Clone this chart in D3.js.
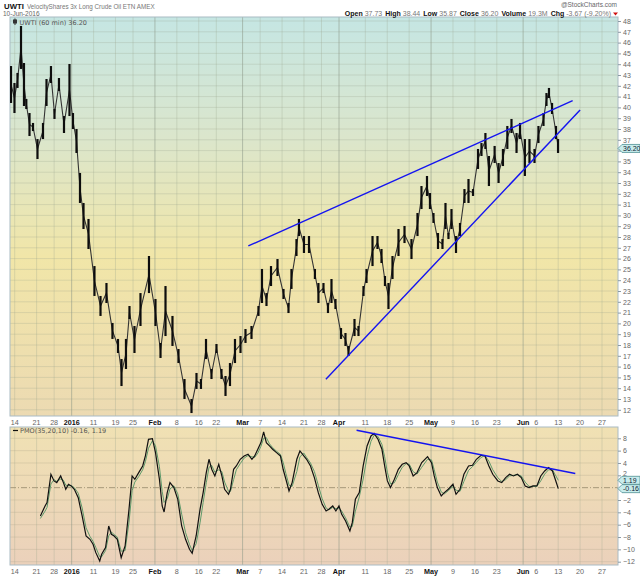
<!DOCTYPE html>
<html><head><meta charset="utf-8">
<script src="https://cdn.jsdelivr.net/npm/d3@7"></script>
<style>body{margin:0;background:#fff}svg{display:block}</style>
</head><body><svg id="c" width="640" height="576"></svg>
<script>
// ---- data (session index = trading days since 2015-12-14) ----
const priceSession = [-0.84,-0.05,0.64,1.44,2.12,2.65,3.38,4.18,5.2,6.46,7.26,8.28,9.08,10.1,11.25,12.5,13.3,14.1,14.9,15.7,16.84,18.2,19.58,20.94,22.31,23.57,24.37,25.39,26.19,27.33,28.7,30.64,32.12,33.27,34.41,36.0,37.37,38.74,40.34,41.48,42.5,43.65,44.9,46.04,47.18,48.1,49.12,50.26,51.52,52.66,54.03,55.62,56.42,57.45,58.48,59.96,61.33,62.47,63.15,64.29,64.86,66.0,67.15,68.5,69.3,70.45,71.48,72.28,73.19,74.45,75.47,76.16,77.53,78.44,79.58,80.27,81.64,82.77,83.69,84.48,85.28,86.2,87.57,88.94,90.53,91.9,92.81,94.07,94.75,95.55,96.58,97.6,98.29,98.97,99.66,100.69,101.6,102.62,103.54,104.57,105.71,106.5,107.4,108.2,109.5,110.4,111.4,112.4,113.35,114.5,115.3,116.4,117.45,118.6,119.5,120.65,121.33,121.9,122.6,123.5,123.97];
const priceHigh = [43.83,42.26,43.19,47.54,44.11,40.78,39.48,38.56,37.07,38.56,42.63,43.83,39.85,42.72,39.2,44.02,39.48,38.0,33.93,31.15,29.67,25.31,22.54,23.74,20.04,18.56,16.7,18.56,21.61,19.76,22.81,26.24,22.26,18.19,23.46,20.69,17.63,14.85,13.0,15.41,14.85,18.56,15.78,18.09,15.78,15.13,16.33,18.56,18.83,19.48,19.76,21.61,25.04,22.81,25.31,25.96,23.19,21.89,25.04,27.81,29.67,28.09,28.09,25.04,23.74,23.74,21.89,24.11,22.26,19.57,19.11,17.91,20.41,19.76,23.46,25.04,28.09,28.09,26.89,24.39,23.74,26.24,28.74,29.02,27.81,30.22,32.72,33.65,32.07,30.22,28.37,27.81,31.15,28.37,30.59,28.09,29.3,32.44,33.37,32.44,36.15,36.7,37.63,35.5,36.43,34.85,36.15,38.28,38.93,37.63,38.56,37.07,37.07,36.15,38.28,39.48,41.33,41.8,40.41,38.28,37.07];
const priceLow = [40.41,39.48,41.8,43.56,40.13,39.85,37.35,37.81,35.22,37.07,40.13,42.26,38.93,41.52,37.63,39.2,38.0,35.78,31.15,28.74,26.89,22.54,20.69,21.89,18.56,17.26,14.2,15.78,20.41,17.26,19.76,22.81,19.76,16.8,18.83,17.91,16.33,13.0,11.7,13.93,13.93,16.7,14.85,17.26,14.85,13.28,14.2,16.33,17.26,18.19,18.56,20.69,21.89,21.61,23.46,24.39,22.26,20.96,23.19,26.24,28.09,26.52,26.52,24.11,21.89,22.81,20.96,21.89,21.33,18.56,17.91,16.98,18.83,18.83,22.54,23.74,25.31,26.89,25.59,23.46,21.33,24.11,26.24,27.44,25.96,28.09,30.59,31.8,30.59,29.3,26.89,26.89,28.74,27.81,28.74,26.52,28.09,31.15,31.15,31.8,34.3,35.5,36.15,32.72,34.85,33.0,34.57,36.15,37.63,35.78,37.07,33.65,34.85,34.85,36.7,38.28,40.13,40.87,39.39,37.07,35.78];

const pmoSession = [5.86,6.93,7.38,8.27,8.98,9.6,10.49,11.12,11.65,12.27,12.9,13.61,14.5,15.39,16.28,17.17,17.88,18.51,19.4,19.84,20.73,21.45,22.07,22.69,23.41,24.3,25.19,26.08,26.79,27.41,28.3,29.2,29.82,30.53,31.42,32.13,33.02,33.65,34.09,34.8,35.43,36.32,37.21,38.1,38.99,39.88,40.5,41.4,42.29,43.0,43.71,44.33,44.96,45.67,46.56,47.27,47.9,48.79,49.23,49.95,50.57,51.46,52.35,53.24,54.13,54.75,55.47,56.18,56.8,57.42,58.14,58.85,59.74,60.63,61.25,61.88,62.59,63.3,64.37,65.08,65.97,66.6,67.49,68.38,69.27,70.16,71.05,71.67,72.57,73.28,73.99,74.61,75.5,76.48,77.02,77.73,78.62,79.51,80.4,81.29,82.0,82.89,83.79,84.41,85.03,85.74,86.63,87.53,88.42,89.31,90.02,90.91,91.8,92.87,94.2,95.1,95.72,96.43,97.32,98.03,98.93,100.0,100.7,101.6,102.49,103.55,104.45,105.34,106.41,107.3,108.19,109.08,110.24,111.13,112.02,112.91,113.8,114.69,115.58,116.47,117.36,118.25,119.14,120.03,120.92,121.81,122.7,123.33,124.03];
const pmoLine = [-4.59,-2.97,-2.43,2.17,1.09,0.82,1.9,0.82,-0.26,0.55,0.28,-0.26,-1.62,-4.59,-7.83,-8.37,-9.18,-10.53,-11.88,-10.8,-9.72,-6.21,-7.56,-7.83,-8.37,-11.34,-9.45,-3.51,1.9,1.36,2.44,3.52,5.14,7.84,7.95,5.68,1.36,-2.97,-3.94,-0.81,0.82,0.01,-1.89,-6.21,-8.37,-9.99,-10.64,-7.83,-3.51,-0.81,2.44,4.6,2.98,1.9,3.79,1.9,-0.26,-1.08,-0.26,2.98,3.52,4.6,5.14,5.41,4.6,5.14,6.22,7.3,9.03,7.3,6.76,6.22,5.68,5.14,2.98,1.36,-0.54,0.82,4.6,5.95,5.14,4.6,3.52,1.63,-0.81,-2.7,-3.78,-3.51,-2.97,-3.78,-2.97,-4.32,-5.4,-7.02,-5.67,-1.89,-0.81,3.52,6.76,8.38,8.81,7.84,6.22,3.52,1.09,0.01,1.36,2.98,3.79,4.06,3.52,1.9,2.44,4.06,5.03,4.06,1.9,0.01,-1.35,-0.81,-0.26,0.55,-1.08,-0.26,2.17,3.52,3.63,4.6,5.25,5.14,3.52,2.17,1.09,0.82,1.63,2.17,1.9,2.17,1.63,0.28,0.01,0.28,0.28,1.9,2.71,3.25,2.71,1.36,-0.16];
const pmoSignal = [-5.0,-3.8,-3.2,0.6,1.3,1.0,1.4,1.2,0.4,0.3,0.35,0.0,-0.9,-3.3,-6.5,-7.9,-8.7,-9.7,-11.2,-11.2,-10.2,-7.8,-7.2,-7.6,-8.0,-10.3,-10.2,-5.6,-0.5,0.9,1.8,2.9,4.2,6.4,7.6,6.8,3.4,-0.6,-2.4,-1.8,-0.2,0.3,-1.0,-4.3,-7.3,-9.2,-10.2,-9.1,-5.7,-2.4,0.8,3.3,3.6,2.5,2.9,2.6,0.9,-0.6,-0.6,1.3,2.9,3.9,4.8,5.2,5.0,4.9,5.6,6.7,8.0,8.1,7.1,6.5,5.9,5.4,4.1,2.3,0.4,0.2,2.6,5.0,5.6,4.9,4.0,2.6,0.4,-1.8,-3.3,-3.6,-3.2,-3.4,-3.3,-3.8,-4.9,-6.4,-6.3,-3.8,-1.5,1.4,5.0,7.5,8.5,8.3,7.0,5.0,2.5,0.6,0.8,2.1,3.3,3.9,3.8,2.6,2.2,3.3,4.6,4.5,2.9,0.9,-0.7,-1.0,-0.5,0.2,-0.4,-0.6,1.0,2.8,3.4,4.1,4.9,5.2,4.3,2.9,1.6,1.0,1.3,1.9,2.0,2.1,1.9,0.9,0.2,0.2,0.2,1.1,2.2,2.9,2.9,2.1,1.19];

const priceTrendUpper = [[53.3, 27.17], [127.3, 40.62]];
const priceTrendLower = [[71.0, 14.82], [129.0, 39.76]];
const pmoTrend = [[78.0, 9.3], [127.9, 2.3]];

const priceTicks = d3.range(12, 49);
const priceLabelTicks = priceTicks.filter(d => d !== 36);
const pmoTicks = [8, 6, 4, 2, -2, -4, -6, -8, -10, -12];
const pmoGridTicks = d3.range(-12, 9, 2);
const dateTicks = [
  ["2015-12-14","14",0],["2015-12-21","21",0],["2015-12-28","28",0],["2016-01-04","2016",1],
  ["2016-01-11","11",0],["2016-01-19","19",0],["2016-01-25","25",0],["2016-02-01","Feb",1],
  ["2016-02-08","8",0],["2016-02-16","16",0],["2016-02-22","22",0],["2016-03-01","Mar",1],
  ["2016-03-07","7",0],["2016-03-14","14",0],["2016-03-21","21",0],["2016-03-28","28",0],
  ["2016-04-01","Apr",1],["2016-04-11","11",0],["2016-04-18","18",0],["2016-04-25","25",0],
  ["2016-05-02","May",1],["2016-05-09","9",0],["2016-05-16","16",0],["2016-05-23","23",0],
  ["2016-06-01","Jun",1],["2016-06-06","6",0],["2016-06-13","13",0],["2016-06-20","20",0],["2016-06-27","27",0]
];
const holidays = ["2015-12-25","2016-01-01","2016-01-18","2016-02-15","2016-03-25","2016-05-30","2016-07-04"];

// ---- trading calendar ----
const fmt = d3.utcFormat("%Y-%m-%d");
const calendar = d3.utcDays(new Date(Date.UTC(2015,11,10)), new Date(Date.UTC(2016,6,6)))
  .filter(d => d.getUTCDay() !== 0 && d.getUTCDay() !== 6 && !holidays.includes(fmt(d)))
  .map(fmt);
const base = calendar.indexOf("2015-12-14");
const sessionOf = s => calendar.indexOf(s) - base;

// ---- layout ----
const svg = d3.select("#c");
const L = 10, R = 618, mTop = 17, mBot = 416, pTop = 427, pBot = 565;
const x = d3.scaleLinear().domain([-1.07, 137.65]).range([L, R]);
const yM = d3.scaleLinear().domain([12, 48]).range([409.8, 21]);
const yP = d3.scaleLinear().domain([-12, 8]).range([561.7, 438.3]);

const defs = svg.append("defs");
const g1 = defs.append("linearGradient").attr("id","gm").attr("x1",0).attr("x2",0).attr("y1",0).attr("y2",1);
[[0,"#c5e6e3"],[0.3,"#dbe6cc"],[0.6,"#f1e6a8"],[1,"#ecdab2"]].forEach(s=>g1.append("stop").attr("offset",s[0]).attr("stop-color",s[1]));
const g2 = defs.append("linearGradient").attr("id","gp").attr("x1",0).attr("x2",0).attr("y1",0).attr("y2",1);
[[0,"#f0e1b3"],[1,"#ebd1bb"]].forEach(s=>g2.append("stop").attr("offset",s[0]).attr("stop-color",s[1]));
defs.append("clipPath").attr("id","cm").append("rect").attr("x",L).attr("y",mTop).attr("width",R-L).attr("height",mBot-mTop);
defs.append("clipPath").attr("id","cp").append("rect").attr("x",L).attr("y",pTop).attr("width",R-L).attr("height",pBot-pTop);

svg.append("rect").attr("x",L).attr("y",mTop).attr("width",R-L).attr("height",mBot-mTop).attr("fill","url(#gm)");
svg.append("rect").attr("x",L).attr("y",pTop).attr("width",R-L).attr("height",pBot-pTop).attr("fill","url(#gp)");

// grid
const grid = svg.append("g");
grid.selectAll("line.hm").data(priceTicks).join("line")
  .attr("x1",L).attr("x2",R).attr("y1",d=>yM(d)).attr("y2",d=>yM(d))
  .attr("stroke","#9aa58f").attr("stroke-opacity",0.35).attr("stroke-width",0.8);
grid.selectAll("line.hp").data(pmoGridTicks.filter(d=>d!==0)).join("line")
  .attr("x1",L).attr("x2",R).attr("y1",d=>yP(d)).attr("y2",d=>yP(d))
  .attr("stroke","#a89f85").attr("stroke-opacity",0.35).attr("stroke-width",0.8);
[[mTop,mBot],[pTop,pBot]].forEach(([a,b])=>{
  grid.append("g").selectAll("line").data(dateTicks).join("line")
    .attr("x1",d=>x(sessionOf(d[0]))).attr("x2",d=>x(sessionOf(d[0])))
    .attr("y1",a).attr("y2",b)
    .attr("stroke",d=>d[2]?"#8a9585":"#9aa58f")
    .attr("stroke-opacity",d=>d[2]?0.55:0.38).attr("stroke-width",d=>d[2]?1:0.8);
});
// zero line
svg.append("line").attr("x1",L).attr("x2",R).attr("y1",yP(0)).attr("y2",yP(0))
  .attr("stroke","#a69a7a").attr("stroke-width",1).attr("stroke-dasharray","6,2,1,2");

// borders
svg.append("rect").attr("x",L).attr("y",mTop).attr("width",R-L).attr("height",mBot-mTop).attr("fill","none").attr("stroke","#aabbc4");
svg.append("rect").attr("x",L).attr("y",pTop).attr("width",R-L).attr("height",pBot-pTop).attr("fill","none").attr("stroke","#aabbc4");

// price bars
const pts = priceSession.map((t,i)=>({t, h:priceHigh[i], l:priceLow[i]}));
const pm = svg.append("g").attr("clip-path","url(#cm)");
pm.append("path").datum(pts)
  .attr("d", d3.line().x(d=>x(d.t)).y(d=>yM((d.h+d.l)/2)))
  .attr("fill","none").attr("stroke","#333").attr("stroke-width",1.1);
pm.selectAll("rect.bar").data(pts).join("rect")
  .attr("x",d=>x(d.t)-1.1).attr("width",2.2)
  .attr("y",d=>yM(d.h)).attr("height",d=>yM(d.l)-yM(d.h)).attr("fill","#0d0d0d");

// trend lines
const tl = d3.line().x(d=>x(d[0]));
pm.append("path").attr("d", tl.y(d=>yM(d[1]))(priceTrendUpper)).attr("stroke","#1414f0").attr("stroke-width",1.4).attr("fill","none");
pm.append("path").attr("d", tl.y(d=>yM(d[1]))(priceTrendLower)).attr("stroke","#1414f0").attr("stroke-width",1.4).attr("fill","none");

// PMO
const pp = svg.append("g").attr("clip-path","url(#cp)");
const pmoPts = pmoSession.map((t,i)=>({t, v:pmoLine[i], s:pmoSignal[i]}));
pp.append("path").datum(pmoPts).attr("d", d3.line().x(d=>x(d.t)).y(d=>yP(d.s)))
  .attr("fill","none").attr("stroke","#5f9a6b").attr("stroke-width",1);
pp.append("path").datum(pmoPts).attr("d", d3.line().x(d=>x(d.t)).y(d=>yP(d.v)))
  .attr("fill","none").attr("stroke","#111").attr("stroke-width",1.2);
pp.append("path").attr("d", d3.line().x(d=>x(d[0])).y(d=>yP(d[1]))(pmoTrend)).attr("stroke","#1414f0").attr("stroke-width",1.4).attr("fill","none");

// right axes
const axFont = "Liberation Sans, Arial, sans-serif";
const axM = svg.append("g").attr("transform",`translate(${R},0)`)
  .call(d3.axisRight(yM).tickValues(priceTicks).tickSize(3).tickPadding(2)
    .tickFormat(d => priceLabelTicks.includes(d) ? d3.format("d")(d) : ""));
const axP = svg.append("g").attr("transform",`translate(${R},0)`)
  .call(d3.axisRight(yP).tickValues(pmoTicks).tickSize(3).tickPadding(2).tickFormat(d3.format("d")));
[axM, axP].forEach(a=>{
  a.select(".domain").remove();
  a.selectAll("line").attr("stroke","#8a9aa4");
  a.selectAll("text").attr("font-family",axFont).attr("font-size",7).attr("fill","#666");
});
axP.selectAll(".tick").filter(d=>d===2).select("text").attr("dy","0.05em");

// value flags
function flag(y, label){
  const gF = svg.append("g");
  gF.append("path").attr("d",`M${R},${y} L${R+4},${y-4} L640,${y-4} L640,${y+4} L${R+4},${y+4} Z`)
    .attr("fill","#c8ecec").attr("stroke","#4f8f93").attr("stroke-width",0.8);
  gF.append("text").attr("x",R+5).attr("y",y+2.5).text(label)
    .attr("font-family",axFont).attr("font-size",7).attr("fill","#123");
}
flag(yM(36.20), "36.20");
flag(yP(1.19), "1.19");
flag(yP(-0.16), "-0.16");

// date axes
[425, 574].forEach(yy=>{
  svg.append("g").selectAll("text").data(dateTicks).join("text")
    .attr("x",d=>x(sessionOf(d[0]))).attr("y",yy).attr("text-anchor","middle")
    .attr("font-family",axFont).attr("font-size",7.2)
    .attr("font-weight",d=>d[2]?"bold":"normal").attr("fill",d=>d[2]?"#111":"#666")
    .text(d=>d[1]);
});

// header
const hdr = svg.append("g").attr("font-family",axFont);
const t1 = hdr.append("text").attr("x",4).attr("y",8.5).attr("font-size",7);
t1.append("tspan").attr("font-weight","bold").attr("fill","#111").attr("font-size",7.8).text("UWTI");
t1.append("tspan").attr("fill","#777").attr("dx",3).attr("font-size",6.3).text("VelocityShares 3x Long Crude Oil ETN AMEX");
hdr.append("text").attr("x",3).attr("y",16.3).attr("font-size",6.5).attr("fill","#666").text("10-Jun-2016");
hdr.append("text").attr("x",617).attr("y",6.5).attr("text-anchor","end").attr("font-size",6.5).attr("fill","#666").text("@StockCharts.com");
const ohlc = hdr.append("text").attr("x",611).attr("y",15.5).attr("text-anchor","end").attr("font-size",7);
[["Open","37.73"],["High","38.44"],["Low","35.87"],["Close","36.20"],["Volume","19.3M"],["Chg","-3.67 (-9.20%)"]].forEach((p,i)=>{
  ohlc.append("tspan").attr("font-weight","bold").attr("fill","#111").attr("dx",i?3:0).text(p[0]);
  ohlc.append("tspan").attr("fill","#777").attr("dx",2).text(p[1]);
});
hdr.append("path").attr("d","M613,12.5 L618,12.5 L615.5,15.5 Z").attr("fill","#d01010");

// legends
const lg = svg.append("g").attr("font-family","DejaVu Sans, sans-serif").attr("font-size",6.5).attr("fill","#555");
lg.append("rect").attr("x",13).attr("y",19.5).attr("width",4).attr("height",4).attr("fill","#333");
lg.append("line").attr("x1",15).attr("x2",15).attr("y1",18.5).attr("y2",25).attr("stroke","#333");
lg.append("text").attr("x",19.5).attr("y",24.5).text("UWTI (60 min) 36.20");
lg.append("line").attr("x1",13).attr("x2",18).attr("y1",430.5).attr("y2",430.5).attr("stroke","#111").attr("stroke-width",1.2);
lg.append("text").attr("x",20).attr("y",433).text("PMO(35,20,10) -0.16, 1.19");
</script></body></html>
